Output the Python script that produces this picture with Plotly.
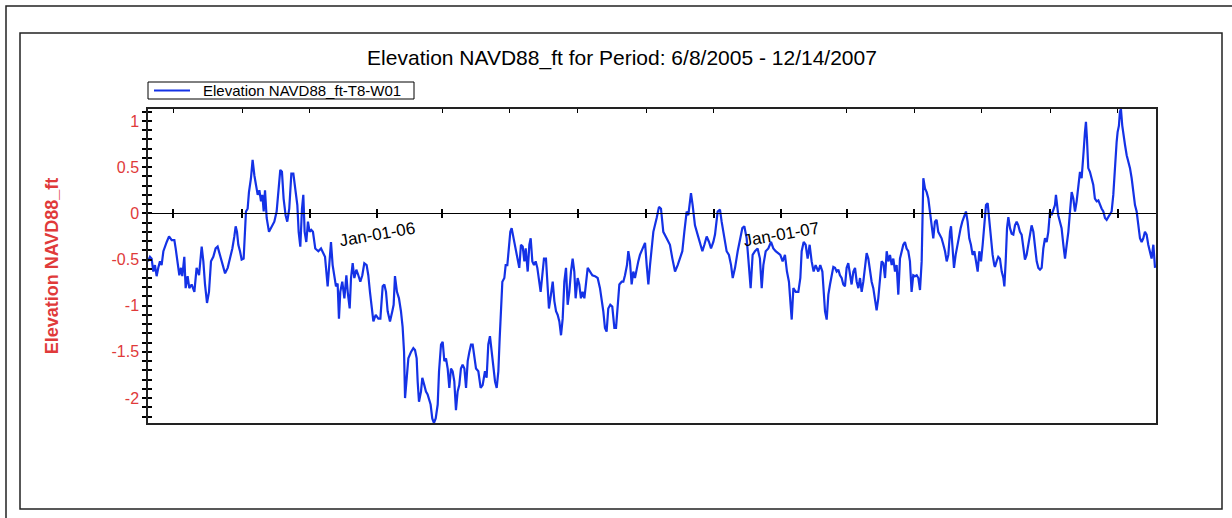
import pandas as pd
import plotly.graph_objects as go

# ---------------- data ----------------
start_date = "2005-06-08"
range_end = "2007-12-05 14:00"

series_name = "Elevation NAVD88_ft-T8-W01"
title_text = "Elevation NAVD88_ft for Period: 6/8/2005 - 12/14/2007"
y_title = "Elevation NAVD88_ft"

# days since start_date
day_offsets = [
    0.0, 1.8, 3.3, 4.8, 6.3, 7.8, 9.3, 10.8, 12.3, 13.9, 16.9, 19.0, 21.4, 23.8, 25.0, 26.8, 28.3, 29.8,
    31.0, 32.8, 34.0, 35.8, 37.3, 39.4, 41.9, 43.9, 46.1, 48.5, 50.0, 51.5, 53.3, 55.1, 56.9, 59.0, 61.1,
    62.9, 65.0, 67.1, 69.6, 72.0, 74.1, 76.2, 78.0, 79.2, 80.4, 81.6, 83.1, 84.6, 86.4, 87.6, 88.5, 90.0,
    91.2, 93.0, 94.5, 96.1, 97.6, 99.1, 100.6, 102.1, 103.3, 104.5, 105.7, 107.2, 109.3, 111.7, 114.1,
    116.2, 117.7, 119.5, 121.0, 122.5, 124.3, 125.8, 127.6, 129.5, 131.3, 133.1, 134.9, 136.1, 137.6,
    139.1, 140.3, 141.5, 143.0, 144.5, 146.0, 147.5, 149.0, 151.1,
    153.9, 156.3, 158.4, 159.9, 162.3, 163.8, 165.3, 166.8, 168.3, 169.8, 171.3, 172.5, 173.7, 175.5,
    177.4, 179.2, 180.4, 182.2, 183.4, 184.9, 186.4, 188.2, 190.0, 191.8, 193.6, 195.4, 197.5, 199.0,
    200.5, 202.0, 203.6, 205.7, 208.1, 209.9, 212.0, 213.5, 215.0, 216.5, 218.6, 220.7, 221.9, 223.1,
    224.9, 226.7, 228.5, 230.0, 231.3, 232.2, 233.7, 235.2, 237.6, 239.7, 241.2, 242.7, 243.6, 244.8,
    246.6, 247.8, 249.6, 251.1, 252.6, 254.1, 255.3, 256.8, 258.3, 259.9, 261.7, 262.9, 264.7, 266.2,
    267.7, 269.2, 270.7, 272.2, 273.7, 275.2, 276.7, 278.2, 279.7, 281.2, 282.7, 284.2, 285.8, 287.3,
    288.8, 290.3, 291.8, 293.3, 294.8, 296.3, 298.4, 300.5, 302.3,
    304.4, 305.9, 307.4, 308.9, 310.4, 312.0, 313.5, 315.0, 316.5, 317.7, 318.9, 320.1, 321.9, 323.1,
    324.6, 326.1, 327.3, 328.5, 329.7, 330.9, 332.4, 333.9, 335.4, 336.9, 338.5, 340.0, 341.2, 343.0,
    344.5, 345.7, 347.2, 348.7, 350.2, 351.7, 353.2, 354.7, 356.2, 357.7, 359.5, 361.0, 362.2, 364.0,
    365.6, 367.1, 368.6, 370.1, 371.6, 373.1, 374.6, 376.1, 377.6, 379.1, 380.6, 382.1, 383.6, 385.1,
    386.3, 388.1, 389.6, 391.1, 392.6, 394.2, 395.7, 397.2, 399.3, 401.4, 403.8, 406.2, 408.3, 409.8,
    411.3, 412.8, 414.3, 415.8, 417.6, 419.4, 421.3, 422.8, 424.3, 425.8, 427.9, 429.4, 430.9, 432.7,
    433.9, 435.4, 436.9, 438.4, 439.9, 441.4, 442.9, 444.4, 445.9, 447.5, 449.0, 450.5, 452.0, 453.5,
    455.0, 456.5,
    459.5, 461.6, 463.4, 465.5, 468.5, 471.5, 473.7, 476.1, 478.5, 480.6, 482.7, 484.5, 486.6, 488.1,
    490.5, 492.0, 494.1, 496.5, 498.6, 500.8, 502.6, 504.7, 506.8, 508.6, 510.7, 512.2, 514.6, 516.7,
    518.2, 520.6, 522.7, 524.8, 526.7, 528.2, 530.3, 532.7, 534.8, 536.9, 538.7, 540.8, 542.3, 544.4,
    546.2, 548.3, 550.7, 552.8, 554.4, 555.9, 558.0, 560.4, 562.8, 564.9, 567.0, 569.4, 571.2, 573.3,
    575.4, 577.2, 579.0, 580.5, 581.5, 583.0, 585.1, 587.5, 589.3, 590.5, 592.3, 594.1, 595.9, 597.7,
    599.5, 601.3, 603.1, 605.5, 607.3, 609.2, 610.7,
    611.6, 613.1, 614.6, 616.1, 617.6, 619.1, 620.6, 622.1, 623.6, 625.1, 626.6, 628.1, 629.6, 631.1,
    632.6, 634.1, 635.6, 637.2, 638.7, 640.2, 641.7, 643.2, 644.7, 646.2, 647.7, 649.2, 650.7, 652.2,
    653.7, 655.2, 656.7, 658.2, 659.7, 661.2, 662.7, 664.3, 665.8, 667.3, 668.8, 670.3, 671.8, 673.3,
    674.8, 676.3, 677.8, 679.3, 680.8, 682.3, 683.8, 685.3, 686.8, 688.3, 689.8, 691.3, 692.9, 694.4,
    695.9, 697.4, 698.9, 699.8, 700.4, 701.9, 703.4, 704.9, 706.4, 707.9, 709.4, 710.9, 712.4, 713.9,
    715.4, 716.9, 718.5, 720.0, 721.5, 723.0, 724.5, 725.4, 726.6, 728.1, 729.6, 731.1, 732.6, 734.1,
    735.6, 737.4, 738.9, 740.4, 741.9, 743.4, 744.9, 746.5, 748.0, 749.5, 751.0, 752.5, 754.0, 755.5,
    757.0, 758.5, 760.0, 761.5, 763.0, 764.5,
    765.1, 766.6, 768.1, 769.6, 771.2, 772.7, 773.6, 774.8, 776.0, 777.2, 778.7, 780.2, 781.7, 783.2,
    784.7, 786.2, 787.7, 789.2, 790.7, 792.2, 793.7, 795.2, 796.7, 798.2, 799.8, 801.3, 802.8, 804.3,
    805.8, 807.3, 808.8, 810.3, 811.8, 813.3, 814.8, 816.3, 817.8, 819.3, 820.2, 821.1, 822.3, 823.8,
    825.3, 826.9, 828.4, 829.9, 831.4, 832.9, 834.4, 835.9, 837.4, 838.9, 840.4, 841.9, 843.4, 844.3,
    845.2, 846.4, 847.3, 848.2, 849.4, 850.9, 852.4, 853.9, 855.4, 857.0, 858.5, 860.0, 861.5, 863.0,
    864.5, 866.0, 867.5, 869.0, 870.5, 872.0, 873.5, 875.0, 875.9, 877.1, 878.0, 878.9, 880.1, 881.4,
    882.6, 884.1, 885.6, 887.1, 888.6, 890.1, 891.6, 893.1, 894.6, 896.1, 897.6, 899.1, 900.6, 902.1,
    903.6, 905.1, 906.6, 908.2, 909.1, 909.7,
]

elevation_ft = [
    -0.52, -0.47, -0.49, -0.63, -0.56, -0.68, -0.59, -0.52, -0.56, -0.41, -0.31, -0.25, -0.29, -0.29, -0.38, -0.52, -0.67, -0.59,
    -0.68, -0.47, -0.81, -0.68, -0.81, -0.77, -0.85, -0.59, -0.67, -0.36, -0.52, -0.77, -0.97, -0.85, -0.52, -0.47, -0.38,
    -0.36, -0.45, -0.56, -0.65, -0.59, -0.49, -0.38, -0.25, -0.14, -0.20, -0.34, -0.41, -0.50, -0.49, -0.20, 0.02, 0.05,
    0.23, 0.38, 0.58, 0.41, 0.31, 0.20, 0.25, 0.13, 0.20, 0.02, 0.25, -0.05, -0.20, -0.14, -0.09,
    0.02, 0.23, 0.47, 0.45, 0.16, -0.02, -0.09, 0.05, 0.43, 0.43, 0.23, 0.09, -0.20, -0.36,
    0.05, 0.20, -0.20, -0.31, -0.09, -0.20, -0.18, -0.20, -0.38,
    -0.41, -0.38, -0.43, -0.47, -0.79, -0.56, -0.31, -0.56, -0.67, -0.79, -0.76, -1.14, -0.85, -0.74,
    -0.92, -0.67, -0.85, -1.03, -0.70, -0.54, -0.70, -0.61, -0.67, -0.74, -0.67, -0.54, -0.56, -0.67,
    -0.85, -0.99, -1.17, -1.10, -1.14, -1.14, -0.79, -0.77, -0.85, -1.06, -1.17, -1.06, -0.99, -0.68,
    -0.85, -0.92, -1.06, -1.23, -1.50, -2.00, -1.78, -1.57, -1.50, -1.46, -1.48, -1.57, -1.82, -2.04,
    -1.93, -1.78, -1.86, -1.93, -1.96, -2.04, -2.07, -2.22, -2.27, -2.22, -2.07, -1.71, -1.42, -1.39,
    -1.60, -1.57, -1.68, -1.89, -1.68, -1.71, -1.82, -2.13, -1.93, -1.86, -1.68, -1.64, -1.68, -1.89,
    -1.60, -1.50, -1.42, -1.42, -1.57, -1.68, -1.71, -1.89, -1.86,
    -1.71, -1.78, -1.42, -1.33, -1.50, -1.71, -1.82, -1.89, -1.71, -1.35, -0.95, -0.74, -0.70, -0.56,
    -0.56, -0.34, -0.20, -0.16, -0.23, -0.31, -0.41, -0.49, -0.59, -0.34, -0.36, -0.52, -0.38, -0.63,
    -0.34, -0.27, -0.52, -0.56, -0.52, -0.59, -0.70, -0.85, -0.67, -0.49, -0.49, -0.85, -1.03, -0.88,
    -0.74, -0.95, -1.06, -1.10, -1.17, -1.32, -1.14, -0.74, -0.59, -0.99, -0.85, -0.63, -0.49, -0.63,
    -0.92, -0.70, -0.77, -0.92, -0.85, -0.92, -0.77, -0.59, -0.63, -0.67, -0.68, -0.70, -0.81, -0.92,
    -1.06, -1.24, -1.28, -1.03, -0.99, -1.01, -1.24, -1.24, -1.03, -0.77, -0.74, -0.74, -0.67, -0.56,
    -0.41, -0.52, -0.77, -0.63, -0.70, -0.59, -0.52, -0.45, -0.41, -0.38, -0.32, -0.56, -0.77, -0.56,
    -0.38, -0.20,
    -0.05, 0.07, 0.05, -0.20, -0.27, -0.34, -0.49, -0.63, -0.56, -0.49, -0.41, -0.20, 0.02, -0.02,
    0.22, 0.09, -0.13, -0.23, -0.31, -0.41, -0.34, -0.25, -0.31, -0.38, -0.31, -0.23, 0.02, 0.04,
    -0.09, -0.27, -0.41, -0.45, -0.56, -0.70, -0.59, -0.41, -0.27, -0.16, -0.14, -0.27, -0.49, -0.81,
    -0.45, -0.41, -0.38, -0.49, -0.81, -0.56, -0.41, -0.38, -0.31, -0.38, -0.41, -0.43, -0.45, -0.52,
    -0.45, -0.63, -0.74, -0.99, -1.15, -0.81, -0.85, -0.85, -0.70, -0.41, -0.31, -0.34, -0.49, -0.34,
    -0.52, -0.63, -0.56, -0.63, -0.56, -0.63, -0.92,
    -1.06, -1.15, -0.88, -0.77, -0.67, -0.58, -0.59, -0.63, -0.61, -0.67, -0.70, -0.77, -0.79, -0.59,
    -0.54, -0.67, -0.77, -0.63, -0.59, -0.74, -0.81, -0.70, -0.85, -0.74, -0.56, -0.43, -0.49, -0.63,
    -0.74, -0.81, -0.92, -1.05, -0.92, -0.70, -0.52, -0.54, -0.70, -0.41, -0.52, -0.45, -0.56, -0.49,
    -0.63, -0.56, -0.88, -0.49, -0.41, -0.34, -0.31, -0.38, -0.41, -0.52, -0.85, -0.67, -0.68, -0.67,
    -0.70, -0.83, -0.52, 0.05, 0.38, 0.27, 0.23, 0.16, 0.02, -0.09, -0.27, -0.09, -0.07, -0.20,
    -0.23, -0.27, -0.34, -0.41, -0.52, -0.45, -0.20, -0.14, -0.34, -0.59, -0.45, -0.34, -0.23, -0.16,
    -0.09, -0.02, 0.02, -0.09, -0.27, -0.34, -0.45, -0.41, -0.52, -0.63, -0.41, -0.52, -0.34, -0.09,
    0.09, 0.11, -0.09, -0.34, -0.45, -0.56,
    -0.58, -0.52, -0.47, -0.49, -0.63, -0.70, -0.79, -0.52, -0.16, -0.04, -0.16, -0.22, -0.23, -0.13,
    -0.09, -0.13, -0.20, -0.23, -0.38, -0.50, -0.45, -0.34, -0.27, -0.13, -0.20, -0.34, -0.52, -0.59,
    -0.61, -0.59, -0.38, -0.27, -0.31, -0.20, 0.02, -0.02, 0.05, 0.09, 0.20, 0.09, -0.02, -0.09,
    -0.16, -0.34, -0.49, -0.34, -0.20, 0.02, 0.23, 0.16, 0.02, 0.13, 0.31, 0.45, 0.38, 0.49,
    0.67, 0.88, 0.99, 0.81, 0.49, 0.45, 0.38, 0.31, 0.16, 0.13, 0.14, 0.09, 0.05, 0.02,
    -0.05, -0.07, -0.04, -0.02, 0.02, 0.20, 0.52, 0.77, 0.88, 0.95, 1.10, 1.13, 0.95, 0.81,
    0.74, 0.63, 0.56, 0.49, 0.38, 0.20, 0.09, 0.02, -0.13, -0.27, -0.31, -0.27, -0.20, -0.23,
    -0.34, -0.41, -0.49, -0.34, -0.52, -0.59,
]

y_range = [-2.27, 1.13]
y_tick_values = [-2, -1.5, -1, -0.5, 0, 0.5, 1]
y_tick_labels = ["-2", "-1.5", "-1", "-0.5", "0", "0.5", "1"]

x_tick_dates = [
    "2005-07-01", "2005-09-01", "2005-11-01", "2006-01-01", "2006-03-01", "2006-05-01",
    "2006-07-01", "2006-09-01", "2006-11-01", "2007-01-01", "2007-03-01", "2007-05-01",
    "2007-07-01", "2007-09-01", "2007-11-01",
]
top_tick_dates = [d for d in x_tick_dates if not d.endswith("-01-01")]
year_label_dates = ["2006-01-01", "2007-01-01"]
year_labels = ["Jan-01-06", "Jan-01-07"]

# ---------------- layout geometry ----------------
W, H = 1232, 518
ML, MR, MT, MB = 148, 76, 109, 95
PW, PH = W - ML - MR, H - MT - MB

def px_x(px):
    return (px - ML) / PW

def px_y(py):
    return (H - MB - py) / PH

FONT = "Liberation Sans, Arial, sans-serif"
BLUE = "#1432e6"
RED = "#e03a3a"

dates = pd.Timestamp(start_date) + pd.to_timedelta(day_offsets, unit="D")
x_range = [start_date, range_end]
zero_pos = (0 - y_range[0]) / (y_range[1] - y_range[0])

fig = go.Figure()
fig.add_trace(go.Scatter(
    x=dates, y=elevation_ft, mode="lines", name=series_name,
    line=dict(color=BLUE, width=2.2), xaxis="x", yaxis="y", showlegend=False,
))
# helper (empty) traces so the overlaid axes are drawn
for xa, ya in [("x2", "y"), ("x3", "y"), ("x", "y2")]:
    fig.add_trace(go.Scatter(x=[], y=[], xaxis=xa, yaxis=ya, showlegend=False,
                             hoverinfo="skip", mode="lines"))

common_x = dict(type="date", range=x_range, showgrid=False, zeroline=False,
                showticklabels=False)

fig.update_layout(
    width=W, height=H,
    margin=dict(l=ML, r=MR, t=MT, b=MB, pad=0),
    paper_bgcolor="white", plot_bgcolor="white",
    font=dict(family=FONT, color="black"),
    title=dict(text=title_text, x=622 / W, xref="container", xanchor="center",
               y=1 - 58 / H, yanchor="middle",
               font=dict(family=FONT, size=21, color="black")),
    showlegend=False,
    xaxis=dict(**common_x, anchor="y", side="top", showline=True, mirror=True,
               linecolor="#222222", linewidth=1.5,
               tickmode="array", tickvals=top_tick_dates,
               ticks="inside", ticklen=4, tickcolor="black", tickwidth=1),
    xaxis2=dict(**common_x, overlaying="x", anchor="free", position=zero_pos,
                side="bottom", showline=True, linecolor="black", linewidth=1,
                tickmode="array", tickvals=x_tick_dates,
                ticks="outside", ticklen=4, tickcolor="black", tickwidth=1.5),
    xaxis3=dict(**common_x, overlaying="x", anchor="free", position=zero_pos,
                side="bottom", showline=False,
                tickmode="array", tickvals=x_tick_dates,
                ticks="inside", ticklen=4, tickcolor="black", tickwidth=1.5),
    yaxis=dict(range=y_range, showgrid=False, zeroline=False, showline=True, mirror=True,
               linecolor="#222222", linewidth=1.5,
               tickmode="array", tickvals=y_tick_values, ticktext=y_tick_labels,
               ticks="outside", ticklen=4, tickcolor="black", tickwidth=1.5,
               minor=dict(dtick=0.1, tick0=0, ticks="outside", ticklen=4,
                          tickcolor="black", tickwidth=1.5),
               tickfont=dict(family=FONT, size=16, color=RED),
               title=dict(text=y_title, standoff=48,
                          font=dict(family=FONT, size=18, color=RED, weight="bold"))),
    yaxis2=dict(range=y_range, overlaying="y", anchor="x", side="left",
                showgrid=False, zeroline=False, showline=False, showticklabels=False,
                tickmode="linear", tick0=0, dtick=0.1,
                ticks="inside", ticklen=4, tickcolor="black", tickwidth=1.5),
)

for d, lab in zip(year_label_dates, year_labels):
    fig.add_annotation(x=d, y=0, xref="x", yref="y", text=lab, showarrow=False,
                       textangle=-10, yshift=-21, xanchor="center", yanchor="middle",
                       font=dict(family=FONT, size=17, color="black"))

# legend box (drawn to match the compact original legend)
fig.add_shape(type="rect", xref="paper", yref="paper",
              x0=px_x(148), x1=px_x(414), y0=px_y(99), y1=px_y(82),
              line=dict(color="black", width=1), fillcolor="white")
fig.add_shape(type="line", xref="paper", yref="paper",
              x0=px_x(154), x1=px_x(190), y0=px_y(90.5), y1=px_y(90.5),
              line=dict(color=BLUE, width=2))
fig.add_annotation(x=px_x(201), y=px_y(90.5), xref="paper", yref="paper",
                   text=series_name, showarrow=False, xanchor="left", yanchor="middle",
                   font=dict(family=FONT, size=15, color="black"))

# chart frames
fig.add_shape(type="rect", xref="paper", yref="paper",
              x0=px_x(20), x1=px_x(1222), y0=px_y(509), y1=px_y(33),
              line=dict(color="#222222", width=1.5), layer="below")
fig.add_shape(type="rect", xref="paper", yref="paper",
              x0=px_x(6), x1=px_x(1300), y0=px_y(580), y1=px_y(6),
              line=dict(color="#222222", width=1.5), layer="below")

fig.write_html("out.html", config={"displayModeBar": False},
               post_script="document.body.style.margin='0';")
